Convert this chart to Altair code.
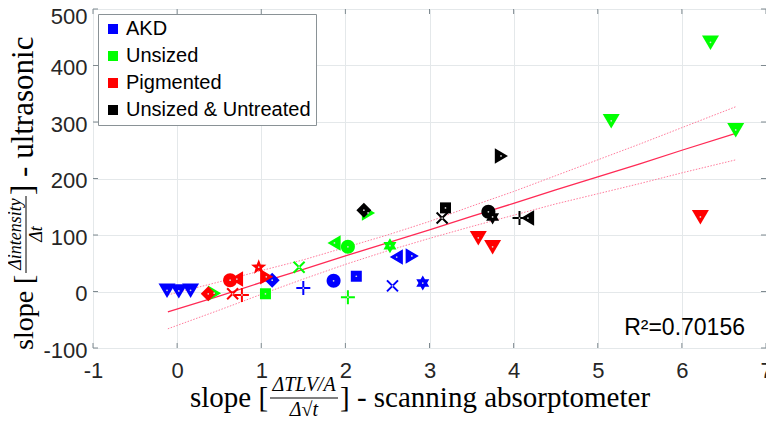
import math
import altair as alt
import pandas as pd

# ---------------- data ----------------
groups = ["AKD", "Unsized", "Pigmented", "Unsized & Untreated"]
group_colors = ["#0000ff", "#00ff00", "#ff0000", "#000000"]

akd_x = [-0.12, 0.02, 0.16, 1.13, 1.50, 1.86, 2.13, 2.56, 2.92, 2.61, 2.79]
akd_y = [2, 1, 2, 20, 6, 19, 27, 10, 15, 61, 63]
akd_m = ["tri_down", "tri_down", "tri_down", "diamond", "plus", "circle", "square", "x", "hexagram", "tri_left", "tri_right"]

uns_x = [0.44, 1.05, 1.45, 2.03, 1.87, 2.03, 2.53, 2.27, 5.16, 6.64, 6.34]
uns_y = [-3, -4, 43, -10, 86, 79, 81, 139, 302, 286, 441]
uns_m = ["tri_right", "square", "x", "plus", "tri_left", "circle", "hexagram", "tri_right", "tri_down", "tri_down", "tri_down"]

pig_x = [0.37, 0.63, 0.71, 0.66, 0.77, 0.97, 1.06, 3.58, 3.75, 6.22]
pig_y = [-4, 20, 22, -4, -6, 43, 26, 95, 79, 132]
pig_m = ["diamond", "circle", "tri_left", "x", "plus", "pentagram", "tri_right", "tri_down", "tri_down", "tri_down"]

unt_x = [2.22, 3.19, 3.15, 3.70, 3.75, 3.85, 4.07, 4.17]
unt_y = [144, 148, 130, 141, 132, 240, 130, 130]
unt_m = ["diamond", "square", "x", "circle", "hexagram", "tri_right", "plus", "tri_left"]

# linear fit and its confidence bounds
band_x = [-0.11, 0.5, 1, 1.5, 2, 2.5, 3, 3.5, 4, 4.5, 5, 5.5, 6, 6.64]
fit_y = [-36, -8, 16, 39, 63, 86, 109, 133, 156, 180, 203, 226, 250, 280]
upper_y = [-6, 17, 37, 56, 78, 100, 124, 151, 177, 205, 233, 261, 290, 327]
lower_y = [-66, -33, -5, 22, 48, 72, 94, 115, 135, 155, 173, 191, 210, 233]

x_ticks = [-1, 0, 1, 2, 3, 4, 5, 6, 7]
y_ticks = [-100, 0, 100, 200, 300, 400, 500]
r2_text = "R\u00b2=0.70156"

# ---------------- marker shapes ----------------
def star(n, r_in):
    pts = []
    for k in range(2 * n):
        r = 1 if k % 2 == 0 else r_in
        a = -math.pi / 2 + k * math.pi / n
        pts.append(f"{r*math.cos(a):.3f},{r*math.sin(a):.3f}")
    return "M" + "L".join(pts) + "Z"

SHAPES = {
    "tri_down": ("M-1,-0.8L1,-0.8L0,0.9Z", 289, True),
    "tri_left": ("M-0.9,0L0.8,-1L0.8,1Z", 240, True),
    "tri_right": ("M0.9,0L-0.8,-1L-0.8,1Z", 240, True),
    "diamond": ("M0,-1L1,0L0,1L-1,0Z", 225, True),
    "circle": ("M1,0A1,1,0,1,1,-1,0A1,1,0,1,1,1,0Z", 196, True),
    "square": ("M-1,-1L1,-1L1,1L-1,1Z", 121, True),
    "hexagram": (star(6, 0.577), 225, True),
    "pentagram": (star(5, 0.42), 260, True),
    "plus": ("M-1,0L1,0M0,-1L0,1", 196, False),
    "x": ("M-1,-1L1,1M-1,1L1,-1", 121, False),
}

rows = []
for g, xs, ys, ms in [(groups[0], akd_x, akd_y, akd_m), (groups[1], uns_x, uns_y, uns_m),
                      (groups[2], pig_x, pig_y, pig_m), (groups[3], unt_x, unt_y, unt_m)]:
    for xv, yv, m in zip(xs, ys, ms):
        path, size, filled = SHAPES[m]
        rows.append(dict(x=xv, y=yv, group=g, path=path, size=size, filled=filled,
                         order=groups.index(g)))
pts = pd.DataFrame(rows)
band = pd.DataFrame(dict(x=band_x, fit=fit_y, up=upper_y, lo=lower_y))

W, H = 673, 339
xs = alt.Scale(domain=[-1, 7], nice=False, zero=False)
ys = alt.Scale(domain=[-100, 500], nice=False, zero=False)
FRAME = "#7f8a90"

base = alt.Chart(pts)
X = alt.X("x:Q", scale=xs, axis=alt.Axis(values=x_ticks, title=None, grid=True, ticks=False,
                                         domain=False, labelPadding=12, labelFontSize=22,
                                         labelFont="Liberation Sans", labelColor="#262626",
                                         gridColor="#e4e8ea", labelFlush=False,
                                         labelExpr="'' + datum.value"))
Y = alt.Y("y:Q", scale=ys, axis=alt.Axis(values=y_ticks, title=None, grid=True, ticks=False,
                                         domain=False, labelPadding=6, labelFontSize=22,
                                         labelFont="Liberation Sans", labelColor="#262626",
                                         gridColor="#e4e8ea",
                                         labelOffset={"condition": {"test": "datum.value == 500", "value": 7},
                                                      "value": 2},
                                         labelFlush=False,
                                         labelExpr="'' + datum.value"))

fit_line = alt.Chart(band).mark_line(color="#ff2a55", strokeWidth=1.3).encode(x=X, y=alt.Y("fit:Q", scale=ys))
up_line = alt.Chart(band).mark_line(color="#ff7b9c", strokeWidth=1, strokeDash=[1.5, 1.5]).encode(
    x=alt.X("x:Q", scale=xs), y=alt.Y("up:Q", scale=ys))
lo_line = alt.Chart(band).mark_line(color="#ff7b9c", strokeWidth=1, strokeDash=[1.5, 1.5]).encode(
    x=alt.X("x:Q", scale=xs), y=alt.Y("lo:Q", scale=ys))

filled_pts = base.transform_filter("datum.filled").mark_point(filled=True, opacity=1, strokeWidth=0).encode(
    x=X, y=Y,
    shape=alt.Shape("path:N", scale=None),
    size=alt.Size("size:Q", scale=None),
    fill=alt.Fill("group:N", scale=alt.Scale(domain=groups, range=group_colors),
                  legend=alt.Legend(orient="none", legendX=5, legendY=5, title=None,
                                    symbolType="square", symbolSize=100, symbolStrokeWidth=0,
                                    labelFont="Liberation Sans", labelFontSize=20, labelColor="#000000",
                                    labelOffset=3, rowPadding=7, padding=5,
                                    fillColor="white", strokeColor="#8a9296", labelLimit=400)),
    order=alt.Order("order:Q"),
)
stroked_pts = base.transform_filter("!datum.filled").mark_point(filled=False, opacity=1, strokeWidth=2).encode(
    x=X, y=Y,
    shape=alt.Shape("path:N", scale=None),
    size=alt.Size("size:Q", scale=None),
    stroke=alt.Stroke("group:N", scale=alt.Scale(domain=groups, range=group_colors), legend=None),
)
center_dots = base.mark_point(filled=True, size=3, color="#d8d8d8", opacity=1).encode(
    x=alt.X("x:Q", scale=xs), y=alt.Y("y:Q", scale=ys))

# inward ticks on all four sides
xt = pd.DataFrame(dict(t=x_ticks))
yt = pd.DataFrame(dict(t=y_ticks))
tick_b = alt.Chart(xt).mark_rule(color=FRAME).encode(x=alt.X("t:Q", scale=xs), y=alt.value(H), y2=alt.value(H - 5))
tick_t = alt.Chart(xt).mark_rule(color=FRAME).encode(x=alt.X("t:Q", scale=xs), y=alt.value(0), y2=alt.value(5))
tick_l = alt.Chart(yt).mark_rule(color=FRAME).encode(y=alt.Y("t:Q", scale=ys), x=alt.value(0), x2=alt.value(5))
tick_r = alt.Chart(yt).mark_rule(color=FRAME).encode(y=alt.Y("t:Q", scale=ys), x=alt.value(W), x2=alt.value(W - 5))

one = pd.DataFrame({"a": [0]})
def txt(s, x, y, size=29, align="left", angle=0, italic=False, font="Liberation Serif", color="#000000"):
    return alt.Chart(one).mark_text(text=s, align=align, baseline="alphabetic", angle=angle,
                                    fontSize=size, font=font, color=color,
                                    fontStyle="italic" if italic else "normal").encode(
        x=alt.value(x), y=alt.value(y))

# x-axis title:  slope [ (ΔTLV/A)/(Δ√t) ] - scanning absorptometer
xt1 = txt("slope [", 97, 398)
xnum = txt("\u0394TLV/A", 211, 382, size=20, align="center", italic=True)
xbar = alt.Chart(one).mark_rule(color="#000000", strokeWidth=1).encode(
    x=alt.value(177), x2=alt.value(245), y=alt.value(389))
xden = txt("\u0394\u221At", 211, 407, size=20, align="center", italic=True)
xt2 = txt("] - scanning absorptometer", 247, 398)

# y-axis title (rotated)
yt1 = txt("slope [", -60, 341, size=28, angle=270)
ynum = txt("\u0394intensity", -72, 225, size=18, align="center", angle=270, italic=True)
ybar = alt.Chart(one).mark_rule(color="#000000", strokeWidth=1).encode(
    x=alt.value(-67), y=alt.value(264), y2=alt.value(187))
yden = txt("\u0394t", -51, 225, size=18, align="center", angle=270, italic=True)
yt2 = txt("] - ultrasonic", -60, 186, size=31, angle=270)

r2 = txt(r2_text, 652, 326, size=23, align="right", font="Liberation Sans")

chart = alt.layer(
    fit_line, up_line, lo_line,
    tick_b, tick_t, tick_l, tick_r,
    filled_pts, stroked_pts, center_dots,
    r2, xt1, xnum, xbar, xden, xt2, yt1, ynum, ybar, yden, yt2,
).resolve_scale(fill="independent", stroke="independent").properties(
    width=W, height=H,
    autosize=alt.AutoSizeParams(type="none"),
    padding={"left": 85, "top": 1, "right": 0, "bottom": 73},
).configure_view(stroke=FRAME, strokeWidth=1.2).configure(background="white")

chart.save("out.html", embed_options={"renderer": "svg", "actions": False})
